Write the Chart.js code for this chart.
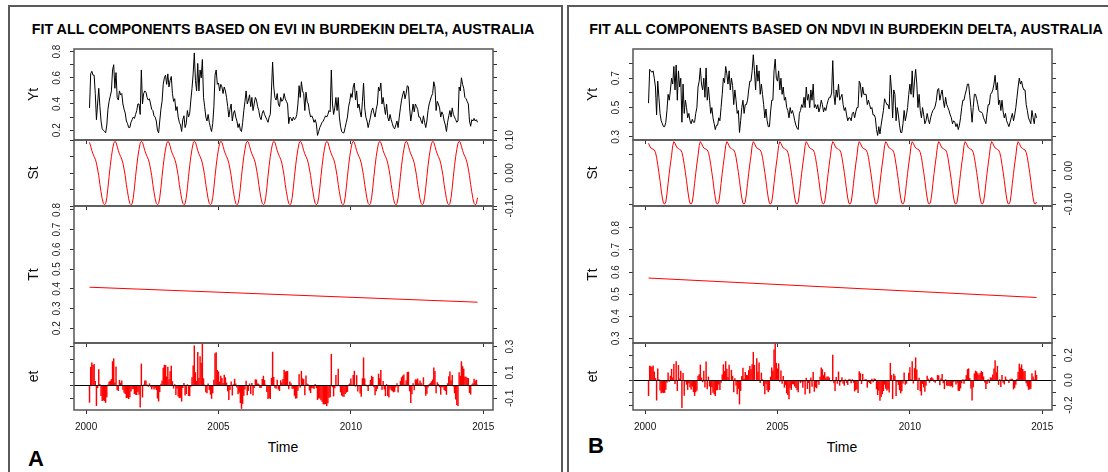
<!DOCTYPE html>
<html>
<head>
<meta charset="utf-8">
<script src="https://cdn.jsdelivr.net/npm/chart.js@4"></script>
<style>
  body { margin: 0; background: #fff; width: 1108px; height: 472px; overflow: hidden; position: relative;
         font-family: "Liberation Sans", Arial, sans-serif; }
  canvas { position: absolute; }
  .frame { position: absolute; top: 5px; height: 480px; border: 2px solid #5a5a5a; box-sizing: border-box; }
  .title { position: absolute; top: 21px; font-weight: bold; font-size: 14.3px; line-height: 16px; white-space: nowrap; transform: translateX(-50%); }
  .xlab { position: absolute; top: 439px; font-size: 14px; line-height: 16px; transform: translateX(-50%); }
  .tag { position: absolute; font-weight: bold; font-size: 22px; line-height: 22px; }
</style>
</head>
<body>
<div class="frame" style="left:8px;width:555px"></div>
<div class="frame" style="left:567px;width:560px"></div>
<div class="title" style="left:283px">FIT ALL COMPONENTS BASED ON EVI IN BURDEKIN DELTA, AUSTRALIA</div>
<div class="title" style="left:846px">FIT ALL COMPONENTS BASED ON NDVI IN BURDEKIN DELTA, AUSTRALIA</div>
<div class="xlab" style="left:283px">Time</div>
<div class="xlab" style="left:842px">Time</div>
<div class="tag" style="left:28px;top:448px">A</div>
<div class="tag" style="left:588px;top:435px">B</div>

<script>
// 16-day composites, 23 per year, starting 2000 period 4
const startYear = 2000, startPeriod = 4, frequency = 23;
const yearTicks = [2000, 2005, 2010, 2015];

// observed series Yt (EVI)
const eviYt = [
  0.37, 0.63, 0.65, 0.62, 0.62, 0.48, 0.28, 0.40, 0.52, 0.38, 0.27, 0.21, 0.20, 0.19, 0.18, 0.24, 0.36, 0.42, 0.46, 0.50,
  0.66, 0.70, 0.52, 0.64, 0.45, 0.43, 0.50, 0.47, 0.48, 0.40, 0.36, 0.33, 0.27, 0.25, 0.22, 0.22, 0.26, 0.28, 0.30, 0.29, 0.32, 0.35, 0.40,
  0.40, 0.32, 0.66, 0.40, 0.48, 0.50, 0.49, 0.45, 0.43, 0.44, 0.40, 0.36, 0.35, 0.31, 0.30, 0.27, 0.20, 0.18, 0.27, 0.36, 0.42, 0.55, 0.60,
  0.62, 0.55, 0.63, 0.53, 0.58, 0.61, 0.48, 0.42, 0.44, 0.35, 0.38, 0.30, 0.26, 0.24, 0.19, 0.28, 0.31, 0.22, 0.25, 0.35, 0.30, 0.33, 0.43,
  0.52, 0.63, 0.79, 0.58, 0.50, 0.71, 0.50, 0.66, 0.60, 0.74, 0.45, 0.38, 0.30, 0.27, 0.32, 0.26, 0.22, 0.19, 0.25, 0.38, 0.62, 0.66, 0.55,
  0.56, 0.50, 0.55, 0.53, 0.48, 0.53, 0.50, 0.45, 0.38, 0.30, 0.36, 0.40, 0.27, 0.33, 0.35, 0.30, 0.27, 0.22, 0.25, 0.20, 0.19, 0.26, 0.35,
  0.42, 0.50, 0.40, 0.43, 0.47, 0.38, 0.45, 0.35, 0.40, 0.45, 0.43, 0.38, 0.35, 0.30, 0.28, 0.33, 0.35, 0.32, 0.30, 0.28, 0.26, 0.30, 0.32,
  0.50, 0.72, 0.53, 0.45, 0.43, 0.48, 0.40, 0.38, 0.45, 0.42, 0.43, 0.48, 0.44, 0.42, 0.40, 0.25, 0.30, 0.29, 0.27, 0.30, 0.28, 0.29, 0.32,
  0.40, 0.54, 0.45, 0.57, 0.50, 0.48, 0.35, 0.49, 0.42, 0.40, 0.34, 0.30, 0.31, 0.29, 0.26, 0.28, 0.25, 0.16, 0.19, 0.22, 0.24, 0.26, 0.27,
  0.29, 0.31, 0.30, 0.32, 0.35, 0.34, 0.66, 0.40, 0.32, 0.37, 0.45, 0.35, 0.45, 0.30, 0.23, 0.19, 0.18, 0.18, 0.22, 0.26, 0.30, 0.38, 0.42,
  0.48, 0.45, 0.53, 0.56, 0.43, 0.50, 0.37, 0.40, 0.34, 0.30, 0.42, 0.56, 0.37, 0.30, 0.27, 0.22, 0.26, 0.30, 0.35, 0.37, 0.33, 0.30, 0.36,
  0.40, 0.53, 0.50, 0.56, 0.40, 0.45, 0.38, 0.32, 0.40, 0.30, 0.27, 0.32, 0.28, 0.25, 0.22, 0.21, 0.24, 0.27, 0.22, 0.30, 0.37, 0.43, 0.47,
  0.50, 0.44, 0.48, 0.54, 0.53, 0.37, 0.27, 0.33, 0.40, 0.34, 0.40, 0.38, 0.36, 0.30, 0.30, 0.27, 0.25, 0.31, 0.26, 0.22, 0.27, 0.35, 0.40,
  0.43, 0.46, 0.48, 0.57, 0.53, 0.35, 0.42, 0.40, 0.37, 0.30, 0.34, 0.32, 0.27, 0.24, 0.19, 0.26, 0.31, 0.35, 0.30, 0.37, 0.32, 0.30, 0.28,
  0.26, 0.27, 0.53, 0.50, 0.60, 0.55, 0.52, 0.45, 0.44, 0.42, 0.40, 0.27, 0.23, 0.28, 0.27, 0.29, 0.27, 0.28, 0.26
];

// observed series Yt (NDVI)
const ndviYt = [
  0.53, 0.76, 0.75, 0.74, 0.75, 0.70, 0.64, 0.45, 0.68, 0.57, 0.46, 0.41, 0.39, 0.37, 0.37, 0.40, 0.48, 0.59, 0.55, 0.62,
  0.70, 0.66, 0.78, 0.62, 0.79, 0.55, 0.75, 0.64, 0.70, 0.40, 0.66, 0.46, 0.55, 0.50, 0.43, 0.46, 0.41, 0.39, 0.42, 0.40, 0.40, 0.46, 0.50,
  0.64, 0.68, 0.77, 0.66, 0.62, 0.70, 0.57, 0.77, 0.55, 0.64, 0.55, 0.46, 0.50, 0.43, 0.39, 0.35, 0.38, 0.38, 0.43, 0.41, 0.50, 0.59, 0.70,
  0.67, 0.78, 0.73, 0.66, 0.75, 0.62, 0.70, 0.65, 0.52, 0.62, 0.55, 0.46, 0.48, 0.33, 0.41, 0.50, 0.55, 0.46, 0.52, 0.52, 0.55, 0.62, 0.68,
  0.68, 0.75, 0.86, 0.75, 0.62, 0.79, 0.68, 0.75, 0.59, 0.66, 0.59, 0.52, 0.43, 0.49, 0.41, 0.37, 0.37, 0.47, 0.55, 0.55, 0.75, 0.83, 0.70,
  0.68, 0.75, 0.62, 0.70, 0.59, 0.64, 0.55, 0.57, 0.50, 0.48, 0.43, 0.50, 0.46, 0.48, 0.45, 0.41, 0.38, 0.36, 0.35, 0.46, 0.48, 0.52, 0.50,
  0.57, 0.50, 0.64, 0.55, 0.59, 0.50, 0.62, 0.55, 0.66, 0.50, 0.52, 0.49, 0.52, 0.47, 0.50, 0.55, 0.52, 0.47, 0.50, 0.48, 0.52, 0.55, 0.57,
  0.57, 0.60, 0.82, 0.59, 0.52, 0.62, 0.57, 0.66, 0.55, 0.57, 0.59, 0.52, 0.48, 0.50, 0.45, 0.41, 0.43, 0.43, 0.41, 0.46, 0.47, 0.43, 0.47,
  0.50, 0.50, 0.68, 0.66, 0.57, 0.64, 0.59, 0.59, 0.59, 0.52, 0.55, 0.52, 0.49, 0.50, 0.45, 0.45, 0.43, 0.35, 0.31, 0.37, 0.32, 0.38, 0.43,
  0.48, 0.56, 0.54, 0.52, 0.52, 0.49, 0.72, 0.62, 0.43, 0.62, 0.59, 0.41, 0.50, 0.45, 0.38, 0.33, 0.33, 0.39, 0.48, 0.41, 0.45, 0.50, 0.59,
  0.66, 0.59, 0.75, 0.57, 0.68, 0.76, 0.66, 0.50, 0.59, 0.48, 0.43, 0.50, 0.45, 0.39, 0.41, 0.46, 0.42, 0.39, 0.43, 0.46, 0.48, 0.49, 0.51,
  0.55, 0.62, 0.63, 0.55, 0.59, 0.62, 0.55, 0.50, 0.57, 0.52, 0.50, 0.48, 0.45, 0.43, 0.39, 0.41, 0.40, 0.37, 0.39, 0.35, 0.38, 0.43, 0.50,
  0.55, 0.55, 0.59, 0.62, 0.66, 0.66, 0.58, 0.50, 0.40, 0.50, 0.59, 0.59, 0.56, 0.52, 0.48, 0.47, 0.47, 0.46, 0.43, 0.41, 0.39, 0.46, 0.52,
  0.52, 0.59, 0.60, 0.62, 0.66, 0.72, 0.62, 0.67, 0.52, 0.55, 0.48, 0.55, 0.47, 0.43, 0.46, 0.41, 0.39, 0.37, 0.40, 0.43, 0.46, 0.41, 0.45,
  0.50, 0.57, 0.64, 0.70, 0.66, 0.68, 0.64, 0.62, 0.62, 0.52, 0.48, 0.43, 0.41, 0.39, 0.48, 0.43, 0.39, 0.46, 0.43
];

// seasonal component St, one value per period of the year
const eviSeason = [0.072, 0.090, 0.096, 0.093, 0.081, 0.068, 0.058, 0.050, 0.042, 0.030, 0.012, -0.008,
  -0.035, -0.057, -0.078, -0.092, -0.096, -0.093, -0.075, -0.045, -0.010, 0.022, 0.050];
const ndviSeason = [0.045, 0.075, 0.087, 0.082, 0.074, 0.068, 0.066, 0.064, 0.062, 0.055, 0.040, 0.018,
  -0.005, -0.030, -0.058, -0.082, -0.098, -0.100, -0.094, -0.070, -0.038, -0.008, 0.020];

// trend component Tt (first and last value of the fitted line)
const eviTrend = [0.408, 0.332];
const ndviTrend = [0.573, 0.485];

// tick labels shown on each panel
const eviYtLabels = [0.2, 0.4, 0.6, 0.8];
const eviStLabels = [-0.1, 0, 0.1];
const eviTtLabels = [0.2, 0.3, 0.4, 0.5, 0.6, 0.7, 0.8];
const eviEtLabels = [-0.1, 0.1, 0.3];
const ndviYtLabels = [0.3, 0.5, 0.7];
const ndviStLabels = [-0.1, 0];
const ndviTtLabels = [0.3, 0.4, 0.5, 0.6, 0.7, 0.8];
const ndviEtLabels = [-0.2, 0, 0.2];

const n = eviYt.length;
const time = eviYt.map((_, i) => startYear + (startPeriod - 1 + i) / frequency);
const seasonal = s => time.map((t, i) => s[(startPeriod - 1 + i) % frequency]);
const trendAt = (tr, i) => tr[0] + (tr[1] - tr[0]) * i / (n - 1);
// remainder et = Yt - St - Tt
const remainder = (yt, st, tr) => yt.map((v, i) => v - st[i] - trendAt(tr, i));
const pts = ys => ys.map((y, i) => ({ x: time[i], y: y }));

const eviSt = seasonal(eviSeason), ndviSt = seasonal(ndviSeason);
const eviEt = remainder(eviYt, eviSt, eviTrend);
const ndviEt = remainder(ndviYt, ndviSt, ndviTrend);

const xMin = 1999.544, xMax = 2015.366;
const rows = { Yt: [49, 140], St: [140, 206], Tt: [206, 343], et: [343, 410] };
const margin = 16;

// box, zero line, rotated tick labels and panel title
const rBox = {
  id: 'rbox',
  afterDraw(chart, args, o) {
    const { ctx, chartArea: a } = chart;
    const ys = chart.scales.y;
    ctx.save();
    if (o.zero) {
      const z = Math.round(ys.getPixelForValue(0)) + 0.5;
      ctx.strokeStyle = '#000'; ctx.lineWidth = 1.2;
      ctx.beginPath(); ctx.moveTo(a.left, z); ctx.lineTo(a.right, z); ctx.stroke();
    }
    ctx.strokeStyle = '#555'; ctx.lineWidth = 1.5;
    ctx.strokeRect(a.left, a.top, a.right - a.left, a.bottom - a.top);
    ctx.fillStyle = '#222'; ctx.textAlign = 'center'; ctx.textBaseline = 'middle';
    ctx.font = '10px "Liberation Sans", Arial';
    const lx = o.side === 'left' ? a.left - 17 : a.right + 17;
    o.labels.forEach(v => {
      ctx.save();
      ctx.translate(lx, ys.getPixelForValue(v));
      ctx.rotate(-Math.PI / 2);
      ctx.fillText(v.toFixed(o.digits), 0, 0);
      ctx.restore();
    });
    ctx.fillStyle = '#111';
    ctx.font = '14px "Liberation Sans", Arial';
    ctx.translate(a.left - 40, (a.top + a.bottom) / 2);
    ctx.rotate(-Math.PI / 2);
    ctx.fillText(o.title, 0, 0);
    ctx.restore();
  }
};

function panel(ox, row, cfg) {
  const [top, bottom] = rows[row];
  const last = row === 'et';
  const cv = document.createElement('canvas');
  cv.width = 560;
  cv.height = bottom - top + margin + (last ? 50 : margin);
  cv.style.left = ox + 'px';
  cv.style.top = (top - margin) + 'px';
  document.body.appendChild(cv);

  const tickGrid = { display: true, drawOnChartArea: false, drawTicks: true, tickLength: 4, color: '#333', lineWidth: 1, offset: false };
  const yAxis = pos => ({
    type: 'linear', position: pos, min: cfg.range[0], max: cfg.range[1],
    border: { display: false }, grid: tickGrid,
    ticks: { display: false, stepSize: cfg.step, includeBounds: false },
    afterFit: s => { s.width = 4; }
  });

  new Chart(cv, {
    type: cfg.type,
    data: { datasets: cfg.datasets },
    options: {
      responsive: false, animation: false, devicePixelRatio: 1,
      layout: { padding: { left: 70, right: 63, top: margin, bottom: last ? 24 : margin - 4 } },
      plugins: {
        legend: { display: false }, tooltip: { enabled: false },
        rbox: { title: row, labels: cfg.labels, side: cfg.side, digits: cfg.digits, zero: last }
      },
      scales: {
        x: {
          type: 'linear', min: xMin, max: xMax, offset: false,
          border: { display: false }, grid: tickGrid,
          ticks: {
            display: last, stepSize: 5, includeBounds: false, maxRotation: 0, padding: 7,
            color: '#111', font: { size: 10, family: '"Liberation Sans", Arial' },
            callback: v => yearTicks.includes(v) ? String(v) : ''
          },
          afterFit: s => { s.height = last ? 26 : 4; }
        },
        y: yAxis('left'),
        y2: yAxis('right')
      }
    },
    plugins: [rBox]
  });
}

const lineSet = (data, color) => ({ data: data, borderColor: color, borderWidth: 1, pointRadius: 0, tension: 0 });
const barSet = data => ({ data: data, backgroundColor: '#ff0000', barThickness: 0.8 });

function side(ox, yt, st, tr, et, r, lab) {
  panel(ox, 'Yt', { type: 'line', datasets: [lineSet(pts(yt), '#000')], range: r.yt, step: 0.1, labels: lab.yt, side: 'left', digits: 1 });
  panel(ox, 'St', { type: 'line', datasets: [lineSet(pts(st), '#ff0000')], range: r.st, step: 0.05, labels: lab.st, side: 'right', digits: 2 });
  panel(ox, 'Tt', { type: 'line', datasets: [lineSet([{ x: time[0], y: tr[0] }, { x: time[n - 1], y: tr[1] }], '#ff0000')], range: r.yt, step: 0.1, labels: lab.tt, side: 'left', digits: 1 });
  panel(ox, 'et', { type: 'bar', datasets: [barSet(pts(et))], range: r.et, step: 0.1, labels: lab.et, side: 'right', digits: 1 });
}

side(0, eviYt, eviSt, eviTrend, eviEt,
  { yt: [0.125, 0.82], st: [-0.1, 0.1], et: [-0.19, 0.328] },
  { yt: eviYtLabels, st: eviStLabels, tt: eviTtLabels, et: eviEtLabels });
side(559, ndviYt, ndviSt, ndviTrend, ndviEt,
  { yt: [0.279, 0.899], st: [-0.106, 0.092], et: [-0.24, 0.298] },
  { yt: ndviYtLabels, st: ndviStLabels, tt: ndviTtLabels, et: ndviEtLabels });
</script>
</body>
</html>
